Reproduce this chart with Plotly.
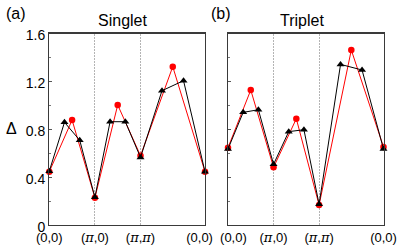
import plotly.graph_objects as go

# Path coordinate (units of pi): (0,0)->(pi,0)->(pi,pi)->(0,0)
x_red = [0, 0.5, 1, 1.5, 2, 2.707, 3.414]
x_black = [0, 0.333, 0.667, 1, 1.333, 1.667, 2, 2.471, 2.943, 3.414]

singlet_red = [0.445, 0.877, 0.228, 1.003, 0.579, 1.323, 0.445]
singlet_black = [0.45, 0.858, 0.708, 0.231, 0.863, 0.863, 0.565, 1.122, 1.206, 0.445]

triplet_red = [0.646, 1.128, 0.482, 0.888, 0.167, 1.462, 0.652]
triplet_black = [0.635, 0.941, 0.963, 0.507, 0.78, 0.796, 0.173, 1.342, 1.295, 0.635]

PI = "<span style='font-family:DejaVu Serif;font-style:italic'>π</span>"
NB = "\u00a0"
k_ticks = [0, 1, 2, 3.414]
k_labels_a = ["(0,0)", f"({PI},0)", f"({PI},{PI})", "(0,0)" + NB * 3]
k_labels_b = [NB * 3 + "(0,0)", f"({PI},0)", f"({PI},{PI})", "(0,0)"]
y_ticks = [0, 0.4, 0.8, 1.2, 1.6]
y_labels = ["0", "0.4", "0.8", "1.2", "1.6"]

FONT = "Liberation Sans, Arial, sans-serif"
W, H = 398, 247

fig = go.Figure()
for xa, ya, red, black in [("x", "y", singlet_red, singlet_black),
                           ("x2", "y2", triplet_red, triplet_black)]:
    fig.add_trace(go.Scatter(x=x_red, y=red, mode="lines+markers", xaxis=xa, yaxis=ya,
                             line=dict(color="#ff0000", width=1),
                             marker=dict(symbol="circle", size=6.5, color="#ff0000"),
                             showlegend=False, cliponaxis=False, hoverinfo="skip"))
    fig.add_trace(go.Scatter(x=x_black, y=black, mode="lines+markers", xaxis=xa, yaxis=ya,
                             line=dict(color="black", width=1),
                             marker=dict(symbol="triangle-up", size=7, color="black"),
                             showlegend=False, cliponaxis=False, hoverinfo="skip"))

xcommon = dict(range=[0, 3.414], tickvals=k_ticks, ticks="", automargin=False,
               showline=True, linecolor="#3a3a3a", linewidth=1.2, mirror=True,
               showgrid=True, gridcolor="#b4b4b4", griddash="2px,1px", gridwidth=1,
               zeroline=False, tickfont=dict(family=FONT, size=13, color="black"))
ycommon = dict(range=[0, 1.6], tickvals=y_ticks, ticktext=y_labels, ticks="inside",
               automargin=False, ticklabelshift=2,
               ticklen=3, tickcolor="#555", showline=True, linecolor="#3a3a3a", linewidth=1.2,
               mirror=True, showgrid=False, zeroline=False,
               minor=dict(dtick=0.2, ticks="inside", ticklen=2, tickcolor="#777"),
               tickfont=dict(family=FONT, size=14, color="black"))

ydom = [1 - 225 / H, 1 - 33.5 / H]
fig.update_layout(
    template="none",
    width=W, height=H,
    margin=dict(l=0, r=0, t=0, b=0, autoexpand=False),
    paper_bgcolor="white", plot_bgcolor="white",
    xaxis=dict(domain=[49.3 / W, 205 / W], anchor="y", ticktext=k_labels_a, **xcommon),
    yaxis=dict(domain=ydom, anchor="x", **ycommon),
    xaxis2=dict(domain=[228 / W, 383.5 / W], anchor="y2", ticktext=k_labels_b, **xcommon),
    yaxis2=dict(domain=ydom, anchor="x2", showticklabels=False, **ycommon),
)

labels = [("(a)", 16.3, 14, 16), ("Singlet", 122, 20.5, 16), ("(b)", 221.3, 14, 16),
          ("Triplet", 302, 20.5, 16), ("Δ", 11.7, 128, 16)]
fig.update_layout(annotations=[
    dict(text=t, x=px / W, y=1 - py / H, xref="paper", yref="paper",
         xanchor="center", yanchor="middle", showarrow=False,
         font=dict(family=FONT, size=s, color="black"))
    for t, px, py, s in labels
])

fig.write_html(
    "out.html",
    config={"displayModeBar": False, "staticPlot": True},
    post_script="document.body.style.margin='0';document.body.style.overflow='hidden';",
)
